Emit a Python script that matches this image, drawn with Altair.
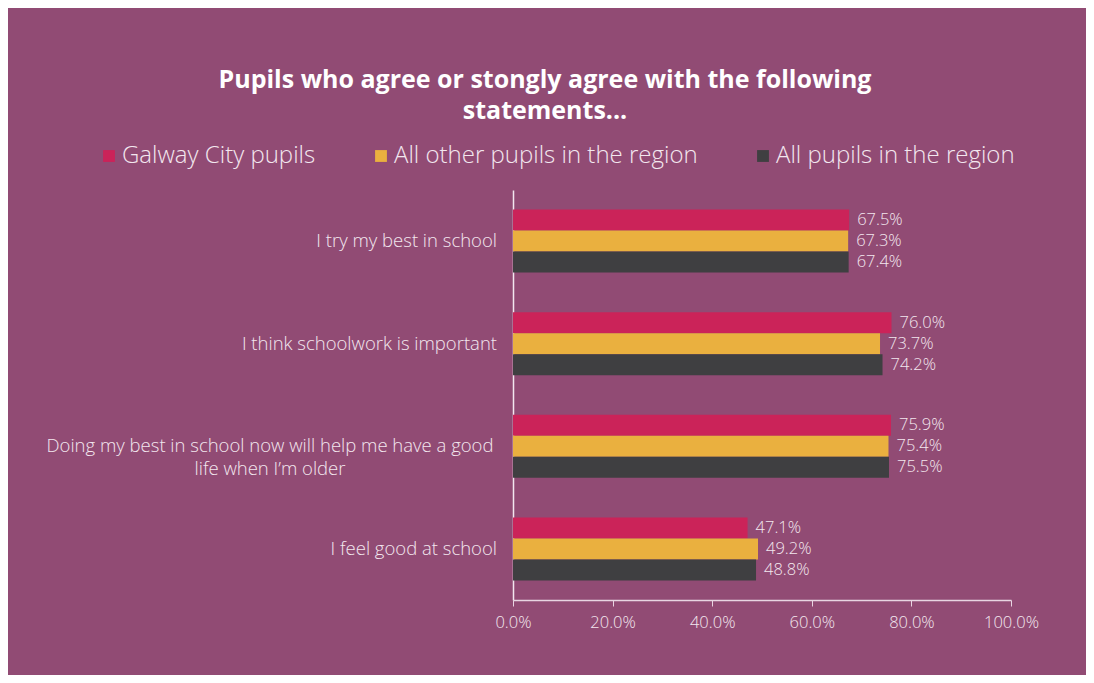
import altair as alt
import pandas as pd

statements = [
    "I try my best in school",
    "I think schoolwork is important",
    "Doing my best in school now will help me have a good life when I'm older",
    "I feel good at school",
]
label_lines = [
    ["I try my best in school"],
    ["I think schoolwork is important"],
    ["Doing my best in school now will help me have a good", "life when I\u2019m older"],
    ["I feel good at school"],
]
series = ["Galway City pupils", "All other pupils in the region", "All pupils in the region"]
galway = [67.5, 76.0, 75.9, 47.1]
others = [67.3, 73.7, 75.4, 49.2]
allp = [67.4, 74.2, 75.5, 48.8]
colors = ["#CB2359", "#EAB03F", "#3F3F41"]

rows = []
for i, s in enumerate(statements):
    for name, vals in zip(series, [galway, others, allp]):
        rows.append({"statement": s, "series": name, "value": vals[i] / 100.0})
df = pd.DataFrame(rows)

lab_single = pd.DataFrame([{"statement": s, "lines": l} for s, l in zip(statements, label_lines) if len(l) == 1])
lab_multi = pd.DataFrame([{"statement": s, "lines": l} for s, l in zip(statements, label_lines) if len(l) > 1])

TXT = "#F3E7EF"
FONT = "Open Sans"

yenc = alt.Y("statement:N", sort=statements,
             scale=alt.Scale(paddingInner=0.385, paddingOuter=0.19),
             axis=alt.Axis(title=None, labels=False, ticks=False, domainColor="#F3E7EF", domainWidth=1.5))
yoff = alt.YOffset("series:N", sort=series)

bars = alt.Chart(df).mark_bar().encode(
    x=alt.X("value:Q", scale=alt.Scale(domain=[0, 1]),
            axis=alt.Axis(title=None, format=".1%", values=[0, 0.2, 0.4, 0.6, 0.8, 1.0],
                          grid=False, domainColor="#E8D5E2", domainWidth=1.5, labelFlush=False,
                          tickColor="#E8D5E2", tickSize=6, labelColor=TXT, labelFontSize=16.5,
                          labelFont=FONT, labelPadding=8, labelFontWeight=300)),
    y=yenc,
    yOffset=yoff,
    color=alt.Color("series:N", sort=series,
                    scale=alt.Scale(domain=series, range=colors),
                    legend=alt.Legend(title=None, orient="none", direction="horizontal",
                                      legendX=-416, legendY=-46, symbolType="square",
                                      symbolSize=140, labelFontSize=24, labelColor=TXT,
                                      labelFont=FONT, labelFontWeight=300, columnPadding=53,
                                      labelOffset=1, symbolStrokeWidth=0, labelLimit=0)),
)

vals = alt.Chart(df).mark_text(align="left", baseline="middle", dx=8, fontSize=16.5,
                               color=TXT, font=FONT, fontWeight=300).encode(
    x="value:Q", y=alt.Y("statement:N", sort=statements), yOffset=yoff,
    text=alt.Text("value:Q", format=".1%"),
)

labs1 = alt.Chart(lab_single).mark_text(align="right", baseline="middle", fontSize=18.5,
                                        color=TXT, font=FONT, fontWeight=300).encode(
    x=alt.value(-16), y=alt.Y("statement:N", sort=statements), text="lines",
)
labs2 = alt.Chart(lab_multi).mark_text(align="center", baseline="middle", fontSize=18.5,
                                       color=TXT, font=FONT, fontWeight=300, lineHeight=23).encode(
    x=alt.value(-243), y=alt.Y("statement:N", sort=statements), text="lines",
)

chart = alt.layer(bars, vals, labs1, labs2).properties(
    width=498, height=410,
    title=alt.TitleParams(
        text=["Pupils who agree or stongly agree with the following", "statements..."],
        fontSize=25, fontWeight="bold", color="#FFFFFF", font=FONT, anchor="middle",
        dx=-217, offset=20, lineHeight=31,
    ),
    autosize=alt.AutoSizeParams(type="none"),
    padding={"left": 505, "top": 182, "right": 75, "bottom": 75},
).configure(background="#914B74").configure_view(stroke=None)

chart.save("out.html", embed_options={"renderer": "svg", "actions": False})
